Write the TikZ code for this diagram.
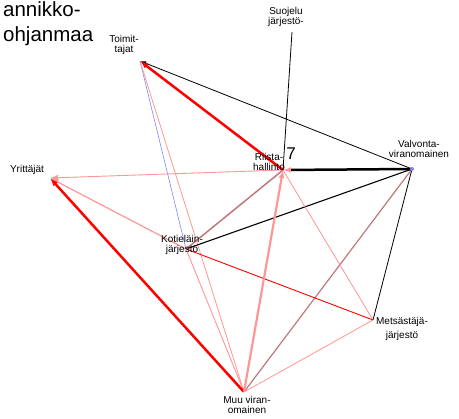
\documentclass[tikz,border=0pt]{standalone}
\usepackage{fontspec}
\setmainfont{Liberation Sans}
\usetikzlibrary{arrows.meta}
\definecolor{lightred}{RGB}{255,150,150}
\definecolor{rosy}{RGB}{190,120,125}
\definecolor{lightblue}{RGB}{130,130,255}
\tikzset{
  pt/.style={inner sep=0pt, minimum size=0pt},
  lbl/.style={inner sep=0pt, align=center, font=\fontsize{10}{9.5}\selectfont},
  tip/.style={-{Latex[length=8pt,width=6pt]}},
  smalltip/.style={-{Latex[length=6pt,width=4pt]}},
}

\begin{document}
\begin{tikzpicture}[x=1pt,y=1pt,yscale=-1,xscale=1]
\useasboundingbox (0,0) rectangle (459,419); %same frame as the screenshot
% Node points
\node[pt] (toim) at (140,61) {};
\node[pt] (suoj) at (292,32) {};
\node[pt] (riis) at (283,170) {};
\node[pt] (valv) at (412,169) {};
\node[pt] (yrit) at (50,178) {};
\node[pt] (kotj) at (186,249) {};
\node[pt] (mets) at (373,320) {};
\node[pt] (muuv) at (244,392) {};
%Straight Lines
\draw [lightblue, line width=0.6] (toim) -- (kotj);
\draw [lightred, line width=0.8] (toim) -- (muuv);
\draw [black, line width=0.8] (suoj) -- (riis);
\draw [black, line width=0.8] (valv) -- (mets);
\draw [black, line width=1.1] (valv) -- (kotj);
\draw [rosy, line width=1.2] (valv) -- (muuv);
\draw [rosy, line width=1.5] (kotj) -- (riis);
\draw [lightred, line width=0.8] (riis) -- (mets);
\draw [lightred, line width=0.8] (mets) -- (muuv);
\draw [red, line width=0.9] (kotj) -- (mets);
\draw [lightred, line width=0.9] (kotj) -- (muuv);
%Arrows
\draw [black, line width=0.8, smalltip] (valv) -- (toim);
\draw [red, line width=2.5, tip] (riis) -- (toim);
\draw [lightred, line width=0.9, tip] (riis) -- (yrit);
\draw [lightred, line width=1.2, tip] (kotj) -- (yrit);
\draw [red, line width=2.5, tip] (muuv) -- (yrit);
\draw [lightred, line width=2.2, tip] (muuv) -- (riis);
\draw [black, line width=2.5, -{Latex[length=8pt,width=6pt,fill=lightred,color=lightred]}] (valv) -- (riis);
\fill [lightblue] (valv) circle (2);
% Text Node
\node[anchor=base west, inner sep=0pt, font=\fontsize{20.5}{25}\selectfont] (title1) at (3,17) {annikko-};
\node[anchor=base west, inner sep=0pt, font=\fontsize{20.5}{25}\selectfont] (title2) at (3,42) {ohjanmaa};
% Text Node
\node[lbl] (toimlbl) at (124,45) {Toimit-\\tajat};
\node[lbl] (suojlbl) at (286,17) {Suojelu\\järjestö-};
\node[lbl] (riislbl) at (269,162) {Riista-\\hallinto};
\node[font=\fontsize{17}{17}\selectfont, inner sep=0pt] (riisnum) at (291,154) {7};
\node[lbl] (valvlbl) at (419,149) {Valvonta-\\viranomainen};
\node[lbl] (yritlbl) at (27,170) {Yrittäjät};
\node[lbl] (kotjlbl) at (182,245) {Kotieläin-\\järjestö};
\node[lbl] (metslbl) at (402,329) {Metsästäjä-\\[4pt]järjestö};
\node[lbl] (muuvlbl) at (247,405) {Muu viran-\\omainen};
\end{tikzpicture}
\end{document}
